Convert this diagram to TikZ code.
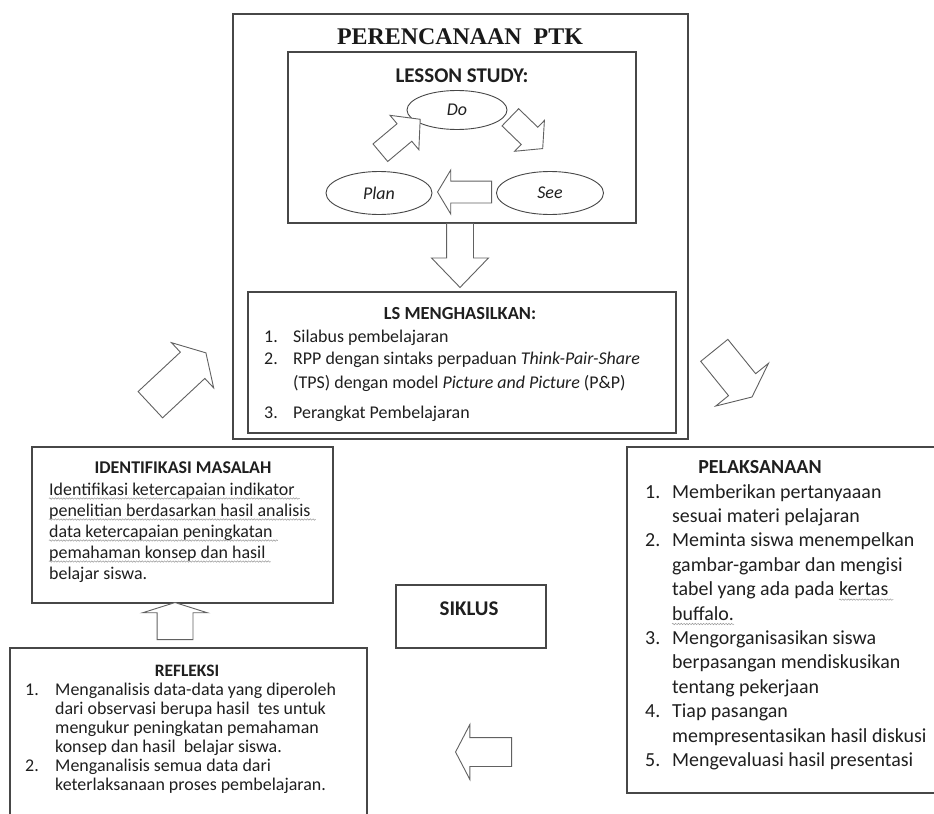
\documentclass[tikz,border=0pt]{standalone}
\usepackage{fontspec}
\setmainfont{Carlito}
\newfontfamily\titlefont{Liberation Serif}
\usetikzlibrary{shapes.geometric,shapes.arrows,decorations.pathmorphing}
\newcommand\shaft[1]{\rule[-#1bp]{0pt}{#1bp}\rule{0pt}{#1bp}}
\begin{document}
\begin{tikzpicture}[x=1bp,y=-1bp,
  box/.style={draw=black!72, line width=1.3bp, inner sep=0pt},
  oval/.style={ellipse, draw=black!72, line width=0.9bp, inner sep=0pt, text=black!88, font=\fontsize{18}{20}\selectfont\itshape},
  blk/.style={single arrow, draw=black!62, line width=0.9bp, fill=white, inner sep=0pt, anchor=tail},
  txt/.style={inner sep=0pt, anchor=base west, text=black!88, font=\fontsize{18}{21}\selectfont},
  ptxt/.style={txt, font=\fontsize{20}{24}\selectfont},
  rtxt/.style={txt, font=\fontsize{18}{19}\selectfont},
  hd/.style={inner sep=0pt, anchor=base, text=black!88, font=\fontsize{18}{21}\selectfont\bfseries},
  wavy/.style={draw=black!40, line width=0.5bp, decorate, decoration={snake, amplitude=0.7bp, segment length=2.8bp}}
]
\clip (0,0) rectangle (934,814);
\fill[white] (0,0) rectangle (934,814);

% ---------- boxes ----------
\node[box, minimum width=455bp, minimum height=425bp] (ptk) at (460.5,226.5) {};
\node[box, minimum width=348bp, minimum height=171bp] (ls) at (462,137.5) {};
\node[box, minimum width=428bp, minimum height=141bp] (hasil) at (462,362.5) {};
\node[box, minimum width=301bp, minimum height=156bp] (ident) at (182.5,525) {};
\node[box, minimum width=150bp, minimum height=63bp] (siklus) at (471,616.5) {};
\node[box, minimum width=357bp, minimum height=182bp] (refl) at (188.5,739) {};
\node[box, minimum width=323bp, minimum height=346bp] (pel) at (788.5,620) {};

% ---------- titles ----------
\node[inner sep=0pt, anchor=base, text=black!90, font=\fontsize{24}{28}\selectfont\titlefont\bfseries] (ttl) at (460,45) {PERENCANAAN\ \ PTK};
\node[hd, font=\fontsize{21}{24}\selectfont\bfseries] (lst) at (462,83) {LESSON STUDY:};
\node[hd, font=\fontsize{18.5}{22}\selectfont\bfseries] (hst) at (460,319) {LS MENGHASILKAN:};
\node[hd] (idt) at (183,473) {IDENTIFIKASI MASALAH};
\node[hd, font=\fontsize{20}{24}\selectfont\bfseries] (pet) at (760,473) {PELAKSANAAN};
\node[hd, font=\fontsize{21}{24}\selectfont\bfseries] (skt) at (469,615) {SIKLUS};
\node[hd, font=\fontsize{17.5}{20}\selectfont\bfseries] (rft) at (187,676) {REFLEKSI};

% ---------- lesson study cycle ----------
\node[oval, minimum width=100bp, minimum height=39bp] (do) at (457,110) {Do};
\node[oval, minimum width=106bp, minimum height=43bp] (plan) at (379,193) {Plan};
\node[oval, minimum width=107bp, minimum height=43bp] (see) at (550,193) {See};

\node[blk, rotate=180, minimum height=54bp, single arrow head extend=11bp, single arrow tip angle=118] (a1) at (492,192) {\shaft{10.5}};
\node[blk, rotate=40, minimum height=52bp, single arrow head extend=11bp, single arrow tip angle=95] (a2) at (380,153) {\shaft{11}};
\node[blk, rotate=-44, minimum height=45bp, single arrow head extend=9.5bp, single arrow tip angle=99] (a3) at (510,117) {\shaft{11.5}};
\node[blk, rotate=-90, minimum height=64bp, single arrow head extend=15bp, single arrow tip angle=88] (a4) at (460,223) {\shaft{13}};

% ---------- big cycle arrows ----------
\node[blk, rotate=43, minimum height=76bp, single arrow head extend=13bp, single arrow tip angle=119] (a5) at (150,405) {\shaft{17.5}};
\node[blk, rotate=-51, minimum height=60bp, single arrow head extend=16.5bp, single arrow tip angle=130] (a6) at (714,350) {\shaft{17}};
\node[blk, rotate=90, minimum height=37bp, single arrow head extend=14.5bp, single arrow tip angle=145] (a7) at (175,640) {\shaft{17.5}};
\node[blk, rotate=180, minimum height=56bp, single arrow head extend=13bp, single arrow tip angle=125] (a8) at (512,752) {\shaft{14}};

% ---------- LS menghasilkan ----------
\node[txt] (h1n) at (264,342) {1.};
\node[txt] (h1) at (293,342) {Silabus pembelajaran};
\node[txt] (h2n) at (264,364) {2.};
\node[txt] (h2) at (293,364) {RPP dengan sintaks perpaduan \textit{Think-Pair-Share}};
\node[txt] (h2b) at (293,388) {(TPS) dengan model \textit{Picture and Picture} (P\&P)};
\node[txt] (h3n) at (264,418) {3.};
\node[txt] (h3) at (293,418) {Perangkat Pembelajaran};

% ---------- identifikasi ----------
\node[txt] (i1) at (49,495) {Identifikasi ketercapaian indikator};
\node[txt] (i2) at (49,516) {penelitian berdasarkan hasil analisis};
\node[txt] (i3) at (49,537) {data ketercapaian peningkatan};
\node[txt] (i4) at (49,558) {pemahaman konsep dan hasil};
\node[txt] (i5) at (49,579) {belajar siswa.};
\foreach \n in {i1,i2,i3,i4}
  \draw[wavy] ([yshift=-3.5bp]\n.base west) -- ([yshift=-3.5bp,xshift=5bp]\n.base east);

% ---------- pelaksanaan ----------
\node[ptxt] (p1n) at (645,498) {1.};
\node[ptxt] (p1) at (672,498) {Memberikan pertanyaaan};
\node[ptxt] (p1b) at (672,522.4) {sesuai materi pelajaran};
\node[ptxt] (p2n) at (645,546.8) {2.};
\node[ptxt] (p2) at (672,546.8) {Meminta siswa menempelkan};
\node[ptxt] (p2b) at (672,571.2) {gambar-gambar dan mengisi};
\node[ptxt] (p2c) at (672,595.6) {tabel yang ada pada};
\node[ptxt] (p2k) at ([xshift=4.5bp]p2c.base east) {kertas};
\node[ptxt] (p2d) at (672,620) {buffalo.};
\draw[wavy] ([yshift=-4bp]p2k.base west) -- ([yshift=-4bp,xshift=5bp]p2k.base east);
\draw[wavy] ([yshift=-4bp]p2d.base west) -- ([yshift=-4bp]p2d.base east);
\node[ptxt] (p3n) at (645,644.4) {3.};
\node[ptxt] (p3) at (672,644.4) {Mengorganisasikan siswa};
\node[ptxt] (p3b) at (672,668.8) {berpasangan mendiskusikan};
\node[ptxt] (p3c) at (672,693.2) {tentang pekerjaan};
\node[ptxt] (p4n) at (645,717.6) {4.};
\node[ptxt] (p4) at (672,717.6) {Tiap pasangan};
\node[ptxt] (p4b) at (672,742) {mempresentasikan hasil diskusi};
\node[ptxt] (p5n) at (645,766.4) {5.};
\node[ptxt] (p5) at (672,766.4) {Mengevaluasi hasil presentasi};

% ---------- refleksi ----------
\node[rtxt] (r1n) at (25,695) {1.};
\node[rtxt] (r1) at (55,695) {Menganalisis data-data yang diperoleh};
\node[rtxt] (r1b) at (55,714) {dari observasi berupa hasil\ \ tes untuk};
\node[rtxt] (r1c) at (55,733) {mengukur peningkatan pemahaman};
\node[rtxt] (r1d) at (55,752) {konsep dan hasil\ \ belajar siswa.};
\node[rtxt] (r2n) at (25,771) {2.};
\node[rtxt] (r2) at (55,771) {Menganalisis semua data dari};
\node[rtxt] (r2b) at (55,790) {keterlaksanaan proses pembelajaran.};
\end{tikzpicture}
\end{document}
